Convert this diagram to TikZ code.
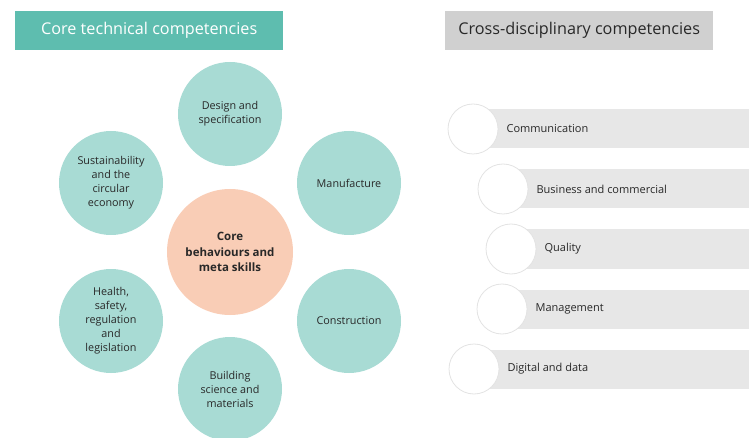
\documentclass[tikz,border=0pt]{standalone}
\usepackage{fontspec}
\setmainfont{Open Sans}
\usetikzlibrary{positioning}
\definecolor{headteal}{RGB}{94,189,175}
\definecolor{mint}{RGB}{168,219,212}
\definecolor{peach}{RGB}{249,205,182}
\definecolor{ashgrey}{RGB}{208,208,208}
\definecolor{bargrey}{RGB}{231,231,231}
\definecolor{ink}{RGB}{40,40,40}
\newcommand{\comma}{,}
\tikzset{
  headbox/.style={minimum width=268pt,minimum height=39pt,inner sep=0pt,anchor=north west,
    font=\fontsize{16.2}{19}\selectfont},
  skill/.style={circle,fill=mint,minimum size=104pt,inner sep=0pt,align=center,text=ink,
    font=\fontsize{10.8}{14}\selectfont},
  barbox/.style={fill=bargrey,minimum height=39pt,inner sep=0pt,anchor=west},
  dot/.style={circle,draw=ashgrey!60,line width=0.8pt,fill=white,minimum size=50pt,inner sep=0pt},
  barlabel/.style={font=\fontsize{11}{13}\selectfont,text=ink,inner sep=0pt,anchor=west}
}

\begin{document}
\begin{tikzpicture}[x=1pt,y=-1pt]
  \useasboundingbox (0,0) rectangle (749,438);
  % headers
  \node[headbox,fill=headteal,text=white] (coreh) at (15,11) {Core technical competencies};
  \node[headbox,fill=ashgrey,text=ink] (crossh) at (445,11) {Cross-disciplinary competencies};
  % core technical circles
  \node[circle,fill=peach,minimum size=126pt,inner sep=0pt,align=center,text=ink,
    font=\fontsize{11.5}{15.5}\selectfont\bfseries] (core) at (230,252) {Core\\behaviours and\\meta skills};
  \foreach \n/\x/\y/\t in {design/230/114/Design and\\specification,
      manuf/349/183/Manufacture,
      constr/349/321/Construction,
      build/230/389/Building\\science and\\materials,
      health/111/321/Health\comma\\safety\comma\\regulation\\and\\legislation,
      sustain/111/183/Sustainability\\and the\\circular\\economy}
    \node[skill] (\n) at (\x,\y) {\t};
  % cross-disciplinary bars
  \foreach \n/\cx/\cy/\t in {comm/473/129/Communication,
      busi/503/189/Business and commercial,
      qual/511/249/Quality,
      mgmt/502/309/Management,
      digi/474/369/Digital and data} {
    \pgfmathsetmacro\bw{749-\cx}
    \node[barbox,minimum width=\bw pt] (\n bar) at (\cx,\cy) {};
    \node[dot] (\n) at (\cx,\cy) {};
    \node[barlabel,right=8pt of \n.east] (\n txt) {\t};
  }
\end{tikzpicture}
\end{document}
